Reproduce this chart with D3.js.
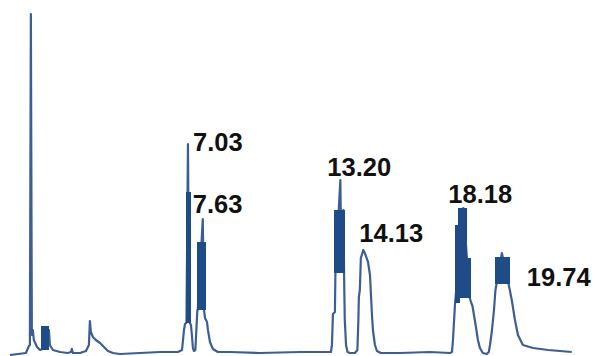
<!DOCTYPE html>
<html>
<head>
<meta charset="utf-8">
<script src="https://cdn.jsdelivr.net/npm/d3@7/dist/d3.min.js"></script>
<style>
  html, body { margin: 0; padding: 0; background: #ffffff; }
  svg { display: block; }
  .peak-label { font-family: "Liberation Sans", Arial, Helvetica, sans-serif; font-weight: bold; font-size: 25.5px; fill: #111111; }
</style>
</head>
<body>
<svg id="chart" width="594" height="356"></svg>
<script>
// Chromatogram trace: retention time (min) and detector response (% of full scale)
const traceTime = [
  -0.18, 0.47, 0.59, 0.63, 0.67, 0.71, 0.75, 0.79, 0.92, 1.04,
  1.36, 1.40, 1.44, 1.56, 1.85, 2.17, 2.29, 2.33, 2.37, 2.66,
  2.90, 3.02, 3.06, 3.10, 3.18, 3.30, 3.47, 3.63, 3.79, 3.99,
  4.28, 5.09, 5.90, 6.62, 6.79, 6.87, 6.91, 6.95, 6.97, 7.03,
  7.08, 7.11, 7.15, 7.19, 7.23, 7.27, 7.33, 7.37, 7.41, 7.43,
  7.63, 7.68, 7.72, 7.80, 7.84, 7.92, 8.04, 8.24, 8.73, 9.94,
  11.56, 12.82, 12.86, 12.90, 12.98, 13.00, 13.20, 13.24, 13.32, 13.36,
  13.38, 13.43, 13.49, 13.59, 13.79, 13.89, 13.93, 13.95, 13.99, 14.03,
  14.13, 14.19, 14.32, 14.40, 14.44, 14.48, 14.52, 14.60, 14.68, 14.84,
  15.61, 16.83, 17.64, 17.72, 17.76, 17.84, 18.18, 18.44, 18.49, 18.55,
  18.61, 18.69, 18.77, 18.85, 18.97, 19.13, 19.21, 19.26, 19.34, 19.42,
  19.48, 19.54, 19.74, 20.02, 20.06, 20.14, 20.27, 20.39, 20.59, 21.00,
  21.61, 22.57
];
const traceResponse = [
  -0.89, -0.30, 1.78, 2.07, 100.0, 5.03, 6.51, 3.55, 1.48, 0.59,
  1.48, 6.51, 2.07, 0.59, 0.00, -0.30, 0.00, 0.89, -0.30, -0.30,
  0.30, 2.07, 9.17, 5.92, 4.44, 3.55, 2.66, 1.48, 0.30, -0.30,
  -0.59, -0.30, 0.00, 0.00, 0.59, 6.51, 8.28, 8.58, 8.58, 61.54,
  9.47, 8.58, 7.99, 5.03, 1.18, 0.30, 0.59, 6.51, 12.43, 12.43,
  39.35, 12.43, 10.06, 8.88, 6.51, 2.96, 0.89, 0.00, 0.00, -0.30,
  0.00, 0.00, 2.07, 11.24, 11.83, 23.37, 50.89, 27.22, 42.01, 18.34,
  9.47, 2.07, 0.00, -0.30, -0.30, 0.59, 9.47, 16.27, 18.34, 27.81,
  30.18, 29.29, 26.63, 22.78, 16.86, 10.95, 6.51, 2.07, 0.30, -0.30,
  -0.30, 0.00, -0.30, 0.00, 3.55, 13.91, 42.60, 15.98, 14.79, 13.61,
  10.95, 7.40, 3.55, 1.18, -0.30, -0.59, 0.00, 2.07, 6.51, 12.43,
  18.34, 20.71, 29.29, 19.82, 18.34, 15.38, 9.47, 5.03, 2.07, 1.18,
  0.59, 0.00
];

// Unresolved high-frequency segments, drawn as filled min/max envelopes
const envStart = [1.10, 6.97, 7.43, 12.98, 17.88, 18.00, 18.28, 19.50];
const envEnd   = [1.34, 7.09, 7.68, 13.34, 18.00, 18.28, 18.44, 20.02];
const envLow   = [0.59, 8.58, 12.43, 23.37, 14.50, 15.98, 15.98, 20.12];
const envHigh  = [7.69, 47.34, 32.54, 42.01, 37.57, 42.60, 27.81, 28.11];

// Labelled peaks: retention times (min) and their apex response
const peakTimes = [7.03, 7.63, 13.20, 14.13, 18.18, 19.74];
const peakApex  = [61.54, 39.35, 50.89, 30.18, 42.60, 29.29];
const peakText  = ["7.03", "7.63", "13.20", "14.13", "18.18", "19.74"];

const width = 594, height = 356;
const svg = d3.select("#chart");

const x = d3.scaleLinear().domain([-0.58, 23.47]).range([0, width]);
const y = d3.scaleLinear().domain([0, 100]).range([352, 14]);

const lineColor = "#3d5e93";
const envColor = "#1f4c86";

const points = traceTime.map((t, i) => ({ t, v: traceResponse[i] }));

svg.append("path")
  .datum(points)
  .attr("fill", "none")
  .attr("stroke", lineColor)
  .attr("stroke-width", 2.2)
  .attr("stroke-linejoin", "round")
  .attr("d", d3.line().x(d => x(d.t)).y(d => y(d.v)));

// Envelopes snap to whole pixels and overlap their neighbours so adjoining blocks fuse
const envelopes = envStart.map((s, i) => ({ s, e: envEnd[i], lo: envLow[i], hi: envHigh[i] }));
svg.append("g")
  .selectAll("rect")
  .data(envelopes)
  .join("rect")
  .attr("x", d => Math.floor(x(d.s)))
  .attr("width", d => Math.ceil(x(d.e)) - Math.floor(x(d.s)) + 1)
  .attr("y", d => Math.round(y(d.hi)))
  .attr("height", d => Math.round(y(d.lo)) - Math.round(y(d.hi)))
  .attr("fill", envColor);

// Label placement relative to each apex (dx, baseline dy), in pixels
const labelOffset = [[5, 7], [-10, -6], [-13, -4], [-4, -8], [-15, -5], [25, 33]];

svg.append("g")
  .selectAll("text")
  .data(peakTimes.map((t, i) => ({ t, v: peakApex[i], label: peakText[i], off: labelOffset[i] })))
  .join("text")
  .attr("class", "peak-label")
  .attr("x", d => x(d.t) + d.off[0])
  .attr("y", d => y(d.v) + d.off[1])
  .text(d => d.label);
</script>
</body>
</html>
